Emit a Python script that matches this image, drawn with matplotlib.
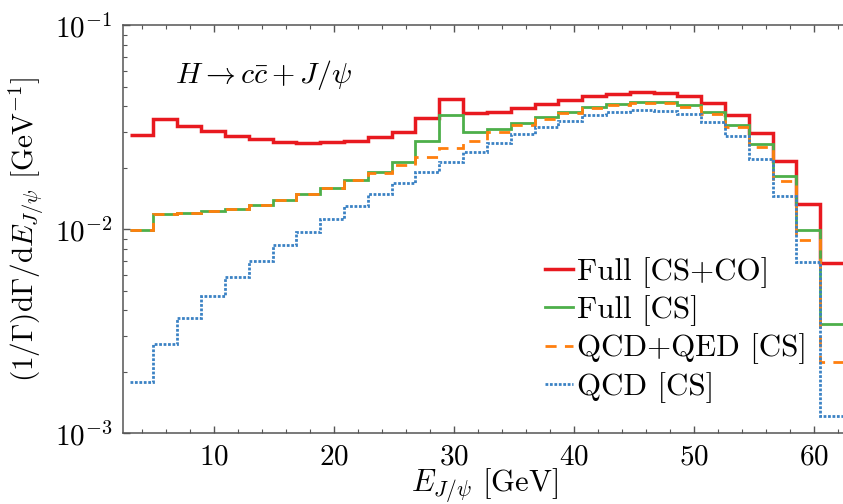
import numpy as np
import matplotlib
matplotlib.use("Agg")
import matplotlib.pyplot as plt

RED = "#e8191f"
GREEN = "#4daf4a"
ORANGE = "#ff7f0e"
BLUE = "#3b82c4"

plt.rcParams["font.family"] = ["cmr10", "DejaVu Serif"]
plt.rcParams["mathtext.fontset"] = "cm"
plt.rcParams["axes.formatter.use_mathtext"] = True
plt.rcParams["font.size"] = 21

# bin edges in E_J/psi [GeV]
E_MIN, E_MAX, N_BINS = 3.0, 62.5, 30
edges = np.linspace(E_MIN, E_MAX, N_BINS + 1)

full_cs_co = [0.0290, 0.0346, 0.0322, 0.0303, 0.0287, 0.0276, 0.0269, 0.0266,
              0.0267, 0.0272, 0.0284, 0.0299, 0.0350, 0.0434, 0.0370, 0.0374,
              0.0392, 0.0413, 0.0432, 0.0450, 0.0462, 0.0469, 0.0464, 0.0450,
              0.0415, 0.0363, 0.0298, 0.0217, 0.0133, 0.0068]
full_cs = [0.00993, 0.01193, 0.01206, 0.01225, 0.01258, 0.01316, 0.01387,
           0.01484, 0.01589, 0.01739, 0.0191, 0.0214, 0.0270, 0.0363, 0.0301,
           0.0309, 0.0331, 0.0355, 0.0377, 0.0398, 0.0413, 0.0421, 0.0420,
           0.0405, 0.0375, 0.0326, 0.0261, 0.0182, 0.00993, 0.00343]
qcd_qed_cs = [0.00993, 0.01193, 0.01206, 0.01225, 0.01258, 0.01316, 0.01387,
              0.01484, 0.01589, 0.01735, 0.0189, 0.0206, 0.0227, 0.0250,
              0.0271, 0.0299, 0.0323, 0.0348, 0.0372, 0.0392, 0.0408, 0.0418,
              0.0415, 0.0399, 0.0369, 0.0318, 0.0254, 0.0172, 0.00886, 0.00224]
qcd_cs = [0.00178, 0.00273, 0.00367, 0.0047, 0.00582, 0.00699, 0.00835,
          0.0097, 0.0112, 0.0130, 0.01484, 0.01687, 0.01916, 0.02145, 0.0240,
          0.0266, 0.0293, 0.0318, 0.0341, 0.0362, 0.0376, 0.0384, 0.0381,
          0.0367, 0.0335, 0.0286, 0.0222, 0.01456, 0.00693, 0.00122]

xticks = [10, 20, 30, 40, 50, 60]

fig = plt.figure(figsize=(8.43, 5.04), dpi=100)
ax = fig.add_axes([123.3 / 843, (504 - 433.3) / 504, 722 / 843, 408 / 504])

ax.stairs(full_cs_co, edges, baseline=None, color=RED, lw=2.5, label="Full [CS+CO]")
ax.stairs(full_cs, edges, baseline=None, color=GREEN, lw=2.0, label="Full [CS]")
ax.stairs(qcd_qed_cs, edges, baseline=None, color=ORANGE, lw=2.0,
          linestyle=(0, (4, 3)), label="QCD+QED [CS]")
ax.stairs(qcd_cs, edges, baseline=None, color=BLUE, lw=2.0,
          linestyle=(0, (1, 0.6)), label="QCD [CS]")

ax.set_yscale("log")
ax.set_ylim(1e-3, 1e-1)
ax.set_xlim(2.47, 62.6)
ax.set_xticks(xticks)
ax.set_xticks(np.arange(4, 63, 2), minor=True)

for side in ["left", "bottom", "top"]:
    ax.spines[side].set_color("#555555")
    ax.spines[side].set_linewidth(1.1)
ax.spines["right"].set_visible(False)

ax.tick_params(which="both", direction="in", top=True, right=False,
               color="#555555")
ax.tick_params(which="major", length=5, width=1.0, pad=8)
ax.tick_params(which="minor", length=3, width=0.8)

ax.set_xlabel(r"$E_{J/\psi}$ [GeV]", labelpad=-3, fontsize=22)
ax.set_ylabel(r"$(1/\Gamma)\mathrm{d}\Gamma/\mathrm{d}E_{J/\psi}$ [GeV$^{-1}$]",
              labelpad=6)

ax.text(0.072, 0.878, r"$H\rightarrow c\bar{c}+J/\psi$", transform=ax.transAxes,
        fontsize=21.5, va="center", ha="left")

ax.legend(loc="upper left", bbox_to_anchor=(545 / 843, 1 - 257 / 504),
          bbox_transform=fig.transFigure, frameon=False, handlelength=0.92,
          handletextpad=0.1, labelspacing=0.24, borderpad=0, borderaxespad=0,
          fontsize=22.3)

fig.savefig("out.png", dpi=100)
